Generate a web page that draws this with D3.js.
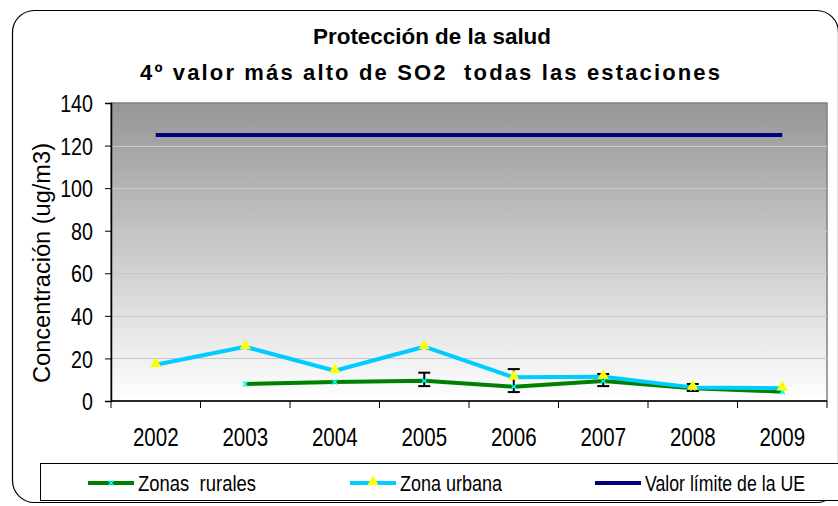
<!DOCTYPE html>
<html>
<head>
<meta charset="utf-8">
<script src="https://cdn.jsdelivr.net/npm/d3@7"></script>
<style>
  body { margin: 0; background: #fff; }
  svg { display: block; }
  text { white-space: pre; }
</style>
</head>
<body>
<div id="chart"></div>
<script>
const years = ["2002", "2003", "2004", "2005", "2006", "2007", "2008", "2009"];
const rural = [null, 8.0, 8.9, 9.5, 6.7, 9.4, 6.0, 4.4];
const urban = [17, 25.5, 14.2, 25.5, 11.1, 11.4, 6.4, 6.0];
const limitEU = [125, 125, 125, 125, 125, 125, 125, 125];
const errLow = [null, null, null, 7.0, 4.2, 7.0, 4.7, null];
const errHigh = [null, null, null, 13.3, 15.0, 12.7, 8.0, null];
const yTicks = [0, 20, 40, 60, 80, 100, 120, 140];
const seriesNames = ["Zonas  rurales", "Zona urbana", "Valor límite de la UE"];

const W = 838, H = 506;
const margin = { left: 111, right: 11, top: 103, bottom: 105 };
const width = W - margin.left - margin.right;
const height = H - margin.top - margin.bottom;
const FONT = "Liberation Sans, Arial, sans-serif";

// squeeze a text horizontally, standing in for Arial Narrow
function squeeze(sel, factor) {
  sel.each(function () {
    const len = this.getComputedTextLength();
    d3.select(this).attr("textLength", len * factor).attr("lengthAdjust", "spacingAndGlyphs");
  });
}

const svg = d3.select("#chart").append("svg").attr("width", W).attr("height", H);

// outer rounded frame
svg.append("rect")
  .attr("x", 12.5).attr("y", 10.5)
  .attr("width", 826).attr("height", 492)
  .attr("rx", 22)
  .attr("fill", "#fff").attr("stroke", "#000").attr("stroke-width", 1.2);

// titles
svg.append("text")
  .attr("x", 432).attr("y", 44)
  .attr("text-anchor", "middle")
  .attr("font-family", FONT)
  .attr("font-weight", "bold").attr("font-size", 22)
  .attr("textLength", 238).attr("lengthAdjust", "spacingAndGlyphs")
  .text("Protección de la salud");
svg.append("text")
  .attr("x", 430).attr("y", 80)
  .attr("text-anchor", "middle")
  .attr("font-family", FONT)
  .attr("font-weight", "bold").attr("font-size", 22)
  .attr("textLength", 580).attr("lengthAdjust", "spacing")
  .text("4º valor más alto de SO2  todas las estaciones");

const defs = svg.append("defs");
const grad = defs.append("linearGradient")
  .attr("id", "bg").attr("x1", 0).attr("y1", 0).attr("x2", 0).attr("y2", 1);
grad.append("stop").attr("offset", "0%").attr("stop-color", "#969696");
grad.append("stop").attr("offset", "100%").attr("stop-color", "#ffffff");

const g = svg.append("g").attr("transform", `translate(${margin.left},${margin.top})`);

const x = d3.scaleBand().domain(years).range([0, width]);
const y = d3.scaleLinear().domain([0, 140]).range([height, 0]);
const cx = (i) => x(years[i]) + x.bandwidth() / 2;

g.append("rect")
  .attr("width", width).attr("height", height)
  .attr("fill", "url(#bg)")
  .attr("stroke", "#808080").attr("stroke-width", 1.5);

// gridlines
g.selectAll(".grid")
  .data(yTicks.slice(1, -1))
  .enter().append("line")
  .attr("x1", 0).attr("x2", width)
  .attr("y1", (d) => Math.round(y(d)) + 0.5).attr("y2", (d) => Math.round(y(d)) + 0.5)
  .attr("stroke", "#c8c8c8").attr("stroke-width", 1);

// y axis
const yAxis = g.append("g")
  .call(d3.axisLeft(y).tickValues(yTicks).tickSize(6).tickPadding(12));
yAxis.select(".domain").attr("stroke", "#000").attr("stroke-width", 1.5);
yAxis.selectAll(".tick line").attr("stroke", "#000");
yAxis.selectAll("text")
  .attr("font-family", FONT).attr("font-size", 24).attr("fill", "#000")
  .attr("dy", "0.36em")
  .call(squeeze, 0.82);

// x axis with ticks between categories
const xAxisG = g.append("g").attr("transform", `translate(0,${height})`);
xAxisG.append("line").attr("x1", 0).attr("x2", width)
  .attr("stroke", "#000").attr("stroke-width", 1.5);
xAxisG.selectAll(".xt")
  .data(years.concat(["end"]))
  .enter().append("line")
  .attr("x1", (d, i) => i * x.bandwidth()).attr("x2", (d, i) => i * x.bandwidth())
  .attr("y1", 0).attr("y2", 7)
  .attr("stroke", "#000");
xAxisG.selectAll(".xl")
  .data(years)
  .enter().append("text")
  .attr("x", (d, i) => cx(i)).attr("y", 45)
  .attr("text-anchor", "middle")
  .attr("font-family", FONT).attr("font-size", 25)
  .text((d) => d)
  .call(squeeze, 0.82);

// y title
svg.append("text")
  .attr("transform", `translate(50,${263}) rotate(-90)`)
  .attr("text-anchor", "middle")
  .attr("font-family", FONT)
  .attr("font-size", 23)
  .attr("textLength", 240).attr("lengthAdjust", "spacingAndGlyphs")
  .text("Concentración (ug/m3)");

const line = (arr) => d3.line()
  .defined((d) => d != null)
  .x((d, i) => cx(i))
  .y((d) => y(d))(arr);

// EU limit
g.append("path").attr("d", line(limitEU))
  .attr("fill", "none").attr("stroke", "#000080").attr("stroke-width", 4);

// rural
g.append("path").attr("d", line(rural))
  .attr("fill", "none").attr("stroke", "#008000").attr("stroke-width", 4)
  .attr("stroke-linejoin", "round");

// urban
g.append("path").attr("d", line(urban))
  .attr("fill", "none").attr("stroke", "#00CCFF").attr("stroke-width", 4)
  .attr("stroke-linejoin", "round");

// error bars
years.forEach((yr, i) => {
  if (errLow[i] == null) return;
  const eg = g.append("g").attr("stroke", "#000").attr("stroke-width", 2);
  eg.append("line").attr("x1", cx(i)).attr("x2", cx(i))
    .attr("y1", y(errLow[i])).attr("y2", y(errHigh[i]));
  eg.append("line").attr("x1", cx(i) - 6).attr("x2", cx(i) + 6)
    .attr("y1", y(errLow[i])).attr("y2", y(errLow[i]));
  eg.append("line").attr("x1", cx(i) - 6).attr("x2", cx(i) + 6)
    .attr("y1", y(errHigh[i])).attr("y2", y(errHigh[i]));
});

// rural markers (small cyan x)
const xMark = (sel, px, py) => {
  sel.append("path")
    .attr("d", `M${px - 2.5},${py - 2.5}L${px + 2.5},${py + 2.5}M${px - 2.5},${py + 2.5}L${px + 2.5},${py - 2.5}`)
    .attr("stroke", "#00FFFF").attr("stroke-width", 1.5);
};
rural.forEach((v, i) => { if (v != null) xMark(g, cx(i), y(v)); });

// urban markers (yellow triangles)
const tri = d3.symbol().type(d3.symbolTriangle).size(55);
g.selectAll(".tri")
  .data(urban)
  .enter().append("path")
  .attr("d", tri)
  .attr("transform", (d, i) => `translate(${cx(i)},${y(d) - 1})`)
  .attr("fill", "#FFFF00");

// legend
svg.append("rect")
  .attr("x", 40.5).attr("y", 463.5)
  .attr("width", 830).attr("height", 37)
  .attr("fill", "#fff").attr("stroke", "#000").attr("stroke-width", 1);

const legendItems = [
  { name: seriesNames[0], color: "#008000", x0: 88, marker: "x", tw: 118 },
  { name: seriesNames[1], color: "#00CCFF", x0: 350, marker: "tri", tw: 102 },
  { name: seriesNames[2], color: "#000080", x0: 595, marker: null, tw: 160 },
];
const lg = svg.append("g");
legendItems.forEach((d) => {
  const ly = 483;
  lg.append("line").attr("x1", d.x0).attr("x2", d.x0 + 46)
    .attr("y1", ly).attr("y2", ly)
    .attr("stroke", d.color).attr("stroke-width", 4);
  if (d.marker === "x") xMark(lg, d.x0 + 23, ly);
  if (d.marker === "tri") lg.append("path").attr("d", tri)
    .attr("transform", `translate(${d.x0 + 23},${ly - 1})`).attr("fill", "#FFFF00");
  lg.append("text")
    .attr("x", d.x0 + 50).attr("y", ly + 8)
    .attr("font-family", FONT).attr("font-size", 22)
    .attr("textLength", d.tw).attr("lengthAdjust", "spacingAndGlyphs")
    .text(d.name);
});
</script>
</body>
</html>
